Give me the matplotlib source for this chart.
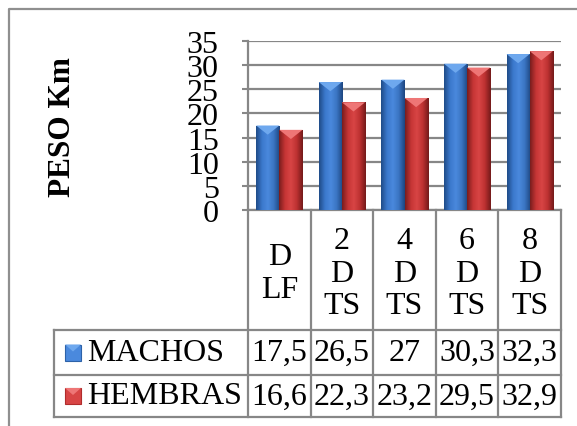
import numpy as np
import matplotlib
matplotlib.use("Agg")
import matplotlib.pyplot as plt
from matplotlib.colors import LinearSegmentedColormap
from matplotlib.patches import Polygon, Rectangle
from matplotlib.lines import Line2D
from matplotlib.transforms import blended_transform_factory

categories = ["D\nLF", "2\nD\nTS", "4\nD\nTS", "6\nD\nTS", "8\nD\nTS"]
series_names = ["MACHOS", "HEMBRAS"]
machos = [17.5, 26.5, 27, 30.3, 32.3]
hembras = [16.6, 22.3, 23.2, 29.5, 32.9]
yticks = [0, 5, 10, 15, 20, 25, 30, 35]

W, H = 577, 427
plt.rcParams["font.family"] = ["Liberation Serif", "DejaVu Serif"]
GREY = "#878787"
FS = 23


def fx(px):
    return px / W


def fy(px):
    return 1 - px / H


blue_cmap = LinearSegmentedColormap.from_list(
    "blue", ["#1F4C88", "#3B78CC", "#4A89DD", "#3A74C2", "#1D4680"])
red_cmap = LinearSegmentedColormap.from_list(
    "red", ["#7A1D1D", "#C63535", "#D84545", "#BD3131", "#741A1A"])
series_style = [(blue_cmap, "#6EA8EE", "#2D62A8"), (red_cmap, "#EE7676", "#B02C2C")]


def fancy_bars(ax, x, h, width, cmap, top_color):
    bars = ax.bar(x, h, width, color="none", edgecolor="none", zorder=3)
    grad = np.linspace(0, 1, 64).reshape(1, -1)
    for b in bars:
        x0, w, hh = b.get_x(), b.get_width(), b.get_height()
        im = ax.imshow(grad, extent=(x0, x0 + w, 0, hh), aspect="auto",
                       cmap=cmap, zorder=3, interpolation="bilinear")
        im.set_clip_path(b)
        d = 1.9
        ax.add_patch(Polygon([(x0, hh), (x0 + w, hh), (x0 + w / 2, hh - d)],
                             closed=True, fc=top_color, ec="none", zorder=4))
    return bars


fig = plt.figure(figsize=(W / 100, H / 100), dpi=100)
ax = fig.add_axes([fx(248), fy(211), (561 - 248) / W, (211 - 42) / H])

x = np.arange(len(categories))
bw = 0.37
fancy_bars(ax, x - bw / 2, machos, bw, blue_cmap, series_style[0][1])
fancy_bars(ax, x + bw / 2, hembras, bw, red_cmap, series_style[1][1])

ax.set_xlim(-0.5, len(categories) - 0.5)
ax.set_ylim(0, 35)
ax.set_yticks(yticks)
ax.set_yticklabels([str(v) for v in yticks], fontsize=FS)
ax.set_xticks([])
ax.tick_params(axis="y", direction="out", length=4, width=1.5, color=GREY, pad=17)
ax.yaxis.grid(True, color=GREY, lw=1.6)
ax.set_axisbelow(True)
for s in ["top", "right"]:
    ax.spines[s].set_visible(False)
for s in ["left", "bottom"]:
    ax.spines[s].set_color(GREY)
    ax.spines[s].set_linewidth(1.6)

fig.text(fx(63), fy(127), "PESO Km", rotation=90, fontsize=22.5,
         fontweight="bold", ha="center", va="center")

# data table under the plot
bt = blended_transform_factory(ax.transData, fig.transFigure)
for b in np.arange(len(categories) + 1) - 0.5:
    fig.add_artist(Line2D([b, b], [fy(211), fy(418)], transform=bt,
                          color=GREY, lw=1.6, clip_on=False))
right = ax.get_position().x1
fig.add_artist(Line2D([fx(54), fx(54)], [fy(331), fy(418)], color=GREY, lw=1.6))
for yy in [331, 376, 418]:
    fig.add_artist(Line2D([fx(54), right], [fy(yy), fy(yy)], color=GREY, lw=1.6))

for i, c in enumerate(categories):
    fig.text(i, fy(274), c, transform=bt, fontsize=FS, ha="center",
             va="center", linespacing=1.15)

row_y = [353.5, 397]
for vals, name, ry, (cm, top, dark) in zip([machos, hembras], series_names,
                                            row_y, series_style):
    for i, v in enumerate(vals):
        fig.text(i, fy(ry), f"{v:g}".replace(".", ","), transform=bt,
                 fontsize=FS, ha="center", va="center")
    fig.add_artist(Rectangle((fx(65), fy(ry + 8)), 16 / W, 16 / H,
                             fc=cm(0.5), ec=dark, lw=0.8))
    fig.add_artist(Polygon([(fx(65), fy(ry - 8)), (fx(81), fy(ry - 8)),
                            (fx(73), fy(ry - 1))], closed=True, fc=top, ec="none"))
    fig.text(fx(87), fy(ry), name, fontsize=FS, ha="left", va="center")

# outer chart border
fig.add_artist(Line2D([fx(9), fx(9), 1], [0, fy(10), fy(10)], color="#8F8F8F", lw=1.6))

fig.savefig("out.png", dpi=100)
